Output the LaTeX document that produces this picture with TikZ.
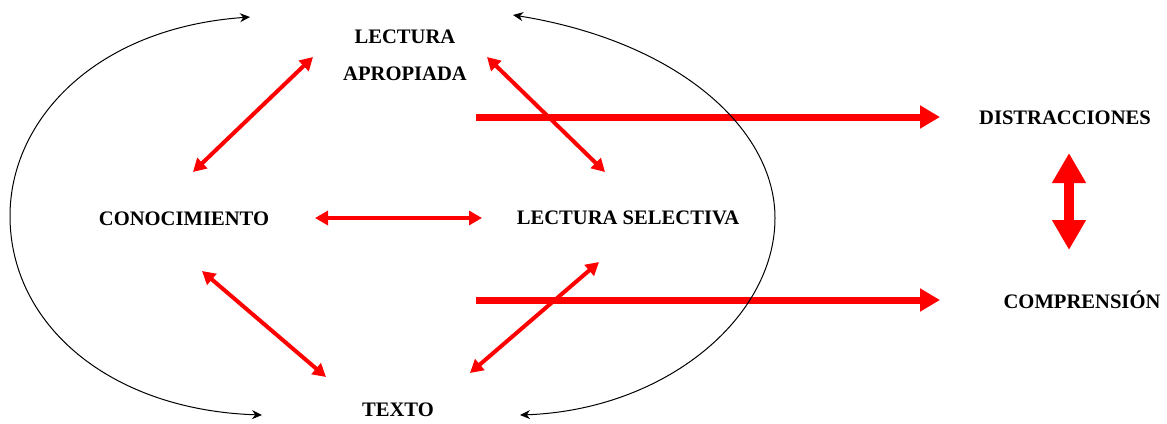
\documentclass[tikz,border=0pt]{standalone}
\usepackage{fontspec}
\setmainfont{Liberation Serif}
\usetikzlibrary{arrows.meta}

\definecolor{flecha_roja}{HTML}{FF0000}

\tikzset{
  concepto/.style={font=\bfseries\fontsize{10.3}{12.5}\selectfont, align=center, inner sep=0pt},
  relacion/.style={flecha_roja, line width=2pt, {Triangle[length=6.5pt,width=7pt]}-{Triangle[length=6.5pt,width=7pt]}},
  salida/.style={flecha_roja, line width=3.5pt, -{Triangle[length=10pt,width=11pt]}},
  ciclo/.style={black, line width=0.5pt, {Stealth[length=5pt,width=4.5pt]}-{Stealth[length=5pt,width=4.5pt]}}
}

\begin{document}
\begin{tikzpicture}[x=0.5pt, y=-0.5pt]

\useasboundingbox (0,0) rectangle (1167,423);

\node[concepto] (apropiada) at (405,55) {LECTURA\\[6pt]APROPIADA};
\node[concepto] (conocimiento) at (184,219) {CONOCIMIENTO};
\node[concepto] (selectiva) at (628,218) {LECTURA SELECTIVA};
\node[concepto] (texto) at (398,410) {TEXTO};
\node[concepto] (distracciones) at (1065,118) {DISTRACCIONES};
\node[concepto] (comprension) at (1082,300) {COMPRENSIÓN};

% extremos de las flechas
\coordinate (con-ne) at (193,172);
\coordinate (apr-sw) at (313,57);
\coordinate (apr-se) at (487,57);
\coordinate (sel-nw) at (605,172);
\coordinate (con-e) at (315,218);
\coordinate (sel-w) at (482,218);
\coordinate (con-se) at (202,271);
\coordinate (tex-nw) at (326,377);
\coordinate (tex-ne) at (470,373);
\coordinate (sel-sw) at (599,262);
\coordinate (sal-a) at (476,117);
\coordinate (dis-w) at (940,117);
\coordinate (sal-b) at (476,300);
\coordinate (com-w) at (940,300);
\coordinate (dis-s) at (1069,153);
\coordinate (com-n) at (1069,250);

\draw[relacion] (con-ne) -- (apr-sw);
\draw[relacion] (apr-se) -- (sel-nw);
\draw[relacion] (con-e) -- (sel-w);
\draw[relacion] (con-se) -- (tex-nw);
\draw[relacion] (tex-ne) -- (sel-sw);

\draw[salida] (sal-a) -- (dis-w);
\draw[salida] (sal-b) -- (com-w);

% flecha doble entre distracciones y comprension
\draw[flecha_roja, line width=5pt, {Triangle[length=15pt,width=16pt]}-{Triangle[length=15pt,width=16pt]}]
  (dis-s) -- (com-n);

% ciclos
\draw[ciclo] (250,17) .. controls (95,28) and (10,120) .. (10,216)
  .. controls (10,325) and (110,410) .. (262,415);
\draw[ciclo] (513,15) .. controls (680,42) and (775,130) .. (775,218)
  .. controls (775,318) and (665,410) .. (520,415);

\end{tikzpicture}
\end{document}
